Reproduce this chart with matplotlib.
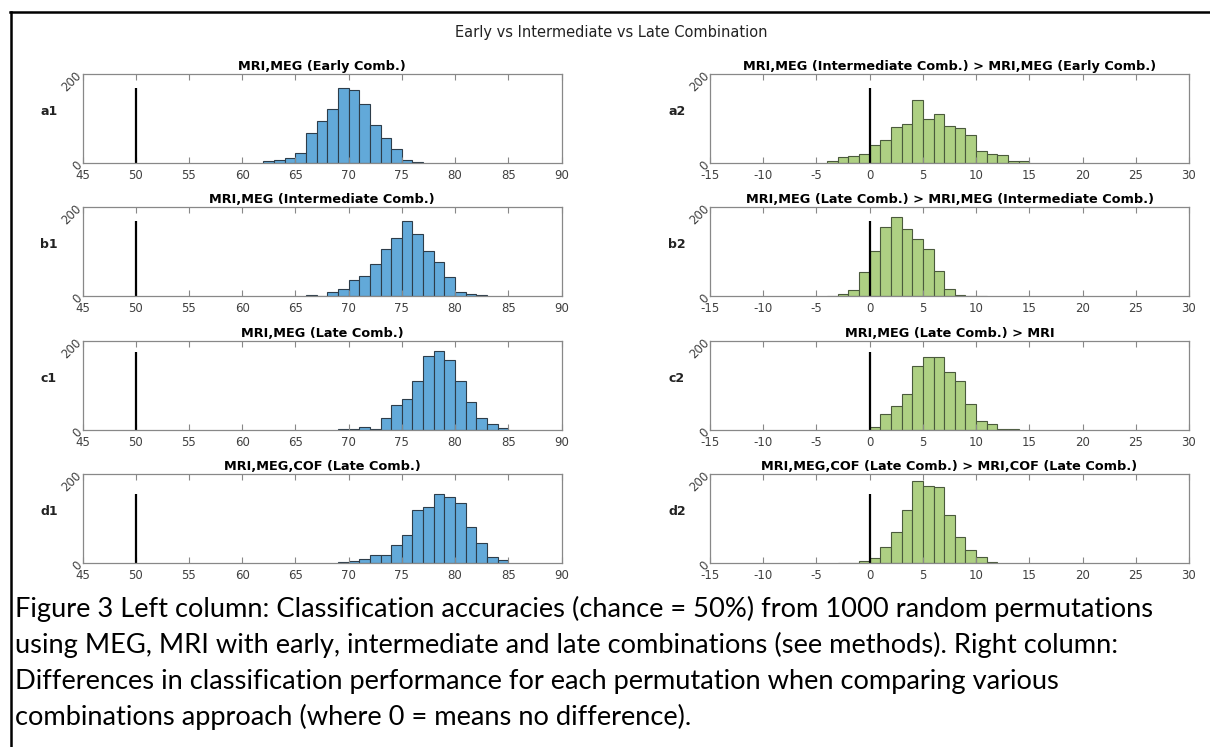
import numpy as np
import matplotlib
matplotlib.use("Agg")
import matplotlib.pyplot as plt
from matplotlib.lines import Line2D

plt.rcParams['axes.unicode_minus'] = False
plt.rcParams['font.family'] = ['DejaVu Sans']

# ---------------- data ----------------
suptitle = "Early vs Intermediate vs Late Combination"
row_labels_left = ["a1", "b1", "c1", "d1"]
row_labels_right = ["a2", "b2", "c2", "d2"]
titles_left = ["MRI,MEG (Early Comb.)",
               "MRI,MEG (Intermediate Comb.)",
               "MRI,MEG (Late Comb.)",
               "MRI,MEG,COF (Late Comb.)"]
titles_right = ["MRI,MEG (Intermediate Comb.) > MRI,MEG (Early Comb.)",
                "MRI,MEG (Late Comb.) > MRI,MEG (Intermediate Comb.)",
                "MRI,MEG (Late Comb.) > MRI",
                "MRI,MEG,COF (Late Comb.) > MRI,COF (Late Comb.)"]

# first bin edge (bin width 1) and counts per bin
a1_start = 62
a1_counts = [4, 7, 12, 23, 67, 95, 122, 168, 163, 133, 85, 56, 32, 6, 2]
b1_start = 66
b1_counts = [2, 0, 10, 16, 37, 46, 73, 106, 131, 169, 140, 102, 77, 43, 10, 5, 2]
c1_start = 69
c1_counts = [2, 2, 7, 3, 28, 56, 69, 109, 166, 177, 157, 111, 64, 26, 13, 4]
d1_start = 69
d1_counts = [2, 4, 9, 18, 18, 40, 63, 120, 126, 155, 148, 135, 81, 45, 13, 7]

a2_start = -4
a2_counts = [5, 13, 16, 21, 41, 52, 81, 88, 141, 100, 109, 84, 79, 62, 28, 21, 19, 5, 5]
b2_start = -4
b2_counts = [1, 5, 14, 55, 102, 156, 177, 151, 127, 106, 57, 16, 2, 0, 1]
c2_start = 0
c2_counts = [6, 35, 55, 80, 143, 165, 165, 130, 111, 58, 20, 13, 3, 3]
d2_start = -3
d2_counts = [1, 0, 5, 12, 37, 70, 120, 184, 174, 170, 108, 59, 30, 14, 2]

left_starts = [a1_start, b1_start, c1_start, d1_start]
left_counts = [a1_counts, b1_counts, c1_counts, d1_counts]
right_starts = [a2_start, b2_start, c2_start, d2_start]
right_counts = [a2_counts, b2_counts, c2_counts, d2_counts]

chance_left = 50
chance_right = 0
chance_height = [168, 168, 176, 155]

left_xlim = (45, 90)
right_xlim = (-15, 30)
left_xticks = [45, 50, 55, 60, 65, 70, 75, 80, 85, 90]
right_xticks = [-15, -10, -5, 0, 5, 10, 15, 20, 25, 30]
yticks = [0, 200]

caption_lines = [
    "Figure 3 Left column: Classification accuracies (chance = 50%) from 1000 random permutations",
    "using MEG, MRI with early, intermediate and late combinations (see methods). Right column:",
    "Differences in classification performance for each permutation when comparing various",
    "combinations approach (where 0 = means no difference).",
]

# ---------------- layout ----------------
W, H = 1210, 747
fig = plt.figure(figsize=(W / 100, H / 100), dpi=100)

blue = '#62a9d9'
green = '#aed083'
edge = '#2d3d4a'
spine_c = '#888888'
tick_c = '#404040'

row_tops = [74, 207, 341, 474]
ax_h = 89
col_lefts = [82.5, 710]
ax_w = 479


def px_rect(x, ytop, w, h):
    return [x / W, 1 - (ytop + h) / H, w / W, h / H]


def style_ax(ax, xlim, xticks):
    ax.set_xlim(*xlim)
    ax.set_ylim(0, 200)
    ax.set_xticks(xticks)
    ax.set_xticklabels([str(t) for t in xticks], fontsize=8.5, color=tick_c)
    ax.set_yticks(yticks)
    ax.set_yticklabels([str(t) for t in yticks], fontsize=8.5, color=tick_c,
                       rotation=45, rotation_mode='anchor', ha='right', va='center')
    ax.tick_params(axis='x', direction='in', top=True, length=4, width=0.8,
                   color=spine_c, pad=4)
    ax.tick_params(axis='y', direction='in', right=False, length=0, width=0.8,
                   color=spine_c, pad=2)
    for s in ax.spines.values():
        s.set_color(spine_c)
        s.set_linewidth(0.9)


for i in range(4):
    # left column
    axl = fig.add_axes(px_rect(col_lefts[0], row_tops[i], ax_w, ax_h))
    edges = np.arange(left_starts[i], left_starts[i] + len(left_counts[i]))
    axl.bar(edges, left_counts[i], width=1, align='edge', color=blue,
            edgecolor=edge, linewidth=0.8)
    axl.vlines(chance_left, 0, chance_height[i], color='black', linewidth=1.6)
    style_ax(axl, left_xlim, left_xticks)
    axl.set_title(titles_left[i], fontsize=9.3, fontweight='bold', pad=3)

    # right column
    axr = fig.add_axes(px_rect(col_lefts[1], row_tops[i], ax_w, ax_h))
    edges = np.arange(right_starts[i], right_starts[i] + len(right_counts[i]))
    axr.bar(edges, right_counts[i], width=1, align='edge', color=green,
            edgecolor='#4a5a3c', linewidth=0.8)
    axr.vlines(chance_right, 0, chance_height[i], color='black', linewidth=1.6)
    style_ax(axr, right_xlim, right_xticks)
    axr.set_title(titles_right[i], fontsize=9.3, fontweight='bold', pad=3)

    yc = 1 - (row_tops[i] + ax_h / 2 - 7) / H
    fig.text(49 / W, yc, row_labels_left[i], fontsize=9, fontweight='bold',
             ha='center', va='center', color='#222222')
    fig.text(677 / W, yc, row_labels_right[i], fontsize=9, fontweight='bold',
             ha='center', va='center', color='#222222')

fig.text(611 / W, 1 - 33 / H, suptitle, fontsize=10.5, ha='center', va='center',
         color='#222222')

# caption, font size fitted to the measured width of the first line
baselines = [617, 653, 689, 725]
target_w = 1138
fs = 18
renderer = fig.canvas.get_renderer()
probe = fig.text(0, 0, caption_lines[0], fontsize=fs, family='Lato')
wpx = probe.get_window_extent(renderer=renderer).width
probe.remove()
fs = fs * target_w / wpx
for line, yb in zip(caption_lines, baselines):
    fig.text(15 / W, 1 - yb / H, line, fontsize=fs, family='Lato',
             ha='left', va='baseline', color='black')

# frame lines
fig.add_artist(Line2D([10.5 / W, 10.5 / W], [0, 1 - 11.5 / H], transform=fig.transFigure,
                      color='black', linewidth=1.8))
fig.add_artist(Line2D([10 / W, 1], [1 - 11.5 / H, 1 - 11.5 / H], transform=fig.transFigure,
                      color='black', linewidth=1.8))

fig.savefig("out.png", dpi=100)
